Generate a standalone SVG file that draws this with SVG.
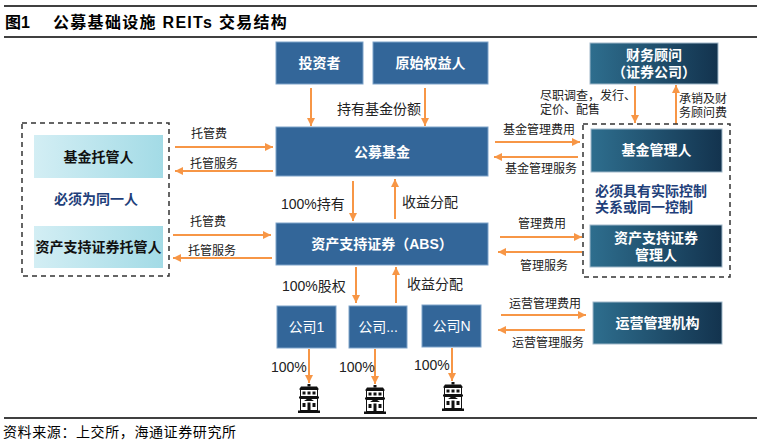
<svg xmlns="http://www.w3.org/2000/svg" width="764" height="445" viewBox="0 0 764 445">
<defs>
<style>
text{font-family:"Liberation Sans","Noto Sans CJK SC",sans-serif;}
.t{font-weight:bold;}
.w{fill:#fff;font-weight:bold;font-size:14px;text-anchor:middle;}
.wn{fill:#fff;font-weight:normal;font-size:14px;text-anchor:middle;}
.k{fill:#111;font-weight:bold;font-size:14px;text-anchor:middle;}
.lb{fill:#222;font-size:12px;}
.lm{fill:#222;font-size:14px;}
.nv{fill:#1f3f7a;font-weight:bold;font-size:14px;}
.blue{fill:#336699;stroke:#7ea3c9;stroke-width:1;}
.dark{fill:url(#gd);stroke:#9fb8c9;stroke-width:1;}
.cyan{fill:url(#gc);}
.dash{fill:none;stroke:#333;stroke-width:1.5;stroke-dasharray:5,4;}
.ar{stroke:#f79646;stroke-width:2;fill:none;marker-end:url(#ah);}
.rule{stroke:#000;stroke-width:1.5;}
</style>
<linearGradient id="gd" x1="0" y1="0" x2="1" y2="0">
<stop offset="0" stop-color="#2e6e8e"/>
<stop offset="1" stop-color="#13334e"/>
</linearGradient>
<linearGradient id="gc" x1="0" y1="0" x2="1" y2="0">
<stop offset="0" stop-color="#d3eef4"/>
<stop offset="1" stop-color="#a3dbe6"/>
</linearGradient>
<marker id="ah" viewBox="0 0 10 10" refX="10" refY="5" markerWidth="9" markerHeight="8" markerUnits="userSpaceOnUse" orient="auto">
<path d="M0,0 L10,5 L0,10 z" fill="#f79646"/>
</marker>
<g id="bld">
<rect x="9.5" y="0" width="3" height="2.5" fill="#111"/>
<polygon points="3,2.5 19,2.5 21,5.5 1,5.5" fill="#111"/>
<rect x="2.5" y="5.5" width="17" height="7" fill="#fff" stroke="#111" stroke-width="1"/>
<rect x="4.5" y="7.5" width="3" height="3" fill="#111"/>
<rect x="9.5" y="7.5" width="3" height="3" fill="#111"/>
<rect x="14.5" y="7.5" width="3" height="3" fill="#111"/>
<rect x="1" y="12.5" width="20" height="2" fill="#111"/>
<rect x="2.5" y="14.5" width="17" height="12" fill="#fff" stroke="#111" stroke-width="1"/>
<polygon points="6,17 11,13.5 16,17" fill="#111"/>
<rect x="4.5" y="19" width="3" height="4" fill="#111"/>
<rect x="14.5" y="19" width="3" height="4" fill="#111"/>
<rect x="9.5" y="18.5" width="3" height="8" fill="#111"/>
<rect x="0" y="26.5" width="22" height="2.5" fill="#111"/>
</g>
</defs>
<rect width="764" height="445" fill="#fff"/>

<g id="title">
<line class="rule" x1="4" y1="6" x2="757" y2="6"/>
<text x="5" y="28" class="t" font-size="16" fill="#000">图1</text>
<text x="53" y="28" class="t" font-size="16" fill="#000" letter-spacing="1.3">公募基础设施 REITs 交易结构</text>
<line class="rule" x1="4" y1="37" x2="757" y2="37"/>
</g>

<g id="connectors">
<line class="ar" x1="311" y1="88" x2="311" y2="126"/>
<line class="ar" x1="425" y1="88" x2="425" y2="126"/>
<line class="ar" x1="353" y1="181" x2="353" y2="221"/>
<line class="ar" x1="395" y1="219" x2="395" y2="179"/>
<line class="ar" x1="356" y1="267" x2="356" y2="303"/>
<line class="ar" x1="396" y1="303" x2="396" y2="267"/>
<line class="ar" x1="309" y1="349" x2="309" y2="383"/>
<line class="ar" x1="375" y1="349" x2="375" y2="384"/>
<line class="ar" x1="452" y1="348" x2="452" y2="381"/>
<line class="ar" x1="175" y1="147" x2="273" y2="147"/>
<line class="ar" x1="273" y1="171" x2="175" y2="171"/>
<line class="ar" x1="173" y1="235" x2="271" y2="235"/>
<line class="ar" x1="272" y1="258" x2="173" y2="258"/>
<line class="ar" x1="495" y1="142" x2="580" y2="142"/>
<line class="ar" x1="578" y1="157" x2="494" y2="157"/>
<line class="ar" x1="500" y1="237" x2="582" y2="237"/>
<line class="ar" x1="582" y1="252" x2="498" y2="252"/>
<line class="ar" x1="501" y1="315" x2="586" y2="315"/>
<line class="ar" x1="585" y1="330" x2="498" y2="330"/>
<line class="ar" x1="635" y1="86" x2="635" y2="123"/>
<line class="ar" x1="676" y1="124" x2="676" y2="85"/>
</g>

<g id="labels">
<text class="lm" x="337" y="114" font-size="13">持有基金份额</text>
<text class="lm" x="281" y="209">100%持有</text>
<text class="lm" x="402" y="207">收益分配</text>
<text class="lm" x="282" y="291">100%股权</text>
<text class="lm" x="407" y="289">收益分配</text>
<text class="lm" x="271" y="372">100%</text>
<text class="lm" x="339" y="372">100%</text>
<text class="lm" x="414" y="370">100%</text>
<text class="lb" x="191" y="138">托管费</text>
<text class="lb" x="190" y="168" font-size="13">托管服务</text>
<text class="lb" x="190" y="226">托管费</text>
<text class="lb" x="188" y="255" font-size="13">托管服务</text>
<text class="lb" x="503" y="134">基金管理费用</text>
<text class="lb" x="505" y="173">基金管理服务</text>
<text class="lb" x="518" y="228">管理费用</text>
<text class="lb" x="520" y="270">管理服务</text>
<text class="lb" x="509" y="308">运营管理费用</text>
<text class="lb" x="512" y="347">运营管理服务</text>
<text class="lb" x="540" y="100">尽职调查，发行、</text>
<text class="lb" x="540" y="114">定价、配售</text>
<text class="lb" x="679" y="103">承销及财</text>
<text class="lb" x="679" y="117">务顾问费</text>
</g>

<g id="custodian-group">
<rect class="dash" x="22" y="123" width="147" height="153"/>
<text class="nv" x="54" y="204">必须为同一人</text>
</g>
<g id="fund-custodian">
<rect class="cyan" x="34" y="135" width="129" height="43"/>
<text class="k" x="98.5" y="162" font-size="15">基金托管人</text>
</g>
<g id="abs-custodian">
<rect class="cyan" x="34" y="226" width="129" height="42"/>
<text class="k" x="98.5" y="252">资产支持证券托管人</text>
</g>

<g id="investor">
<rect class="blue" x="276" y="42" width="87" height="42"/>
<text class="w" x="319.5" y="68">投资者</text>
</g>
<g id="originator">
<rect class="blue" x="373" y="42" width="115" height="42"/>
<text class="w" x="430.5" y="68">原始权益人</text>
</g>
<g id="public-fund">
<rect class="blue" x="276" y="127" width="212" height="49"/>
<text class="w" x="382" y="157">公募基金</text>
</g>
<g id="abs">
<rect class="blue" x="276" y="223" width="212" height="42"/>
<text class="w" x="382" y="249">资产支持证券（ABS）</text>
</g>
<g id="company1">
<rect class="blue" x="277" y="306" width="59" height="42"/>
<text class="wn" x="306.5" y="332">公司1</text>
</g>
<g id="company2">
<rect class="blue" x="349" y="306" width="58" height="42"/>
<text class="wn" x="378" y="332">公司...</text>
</g>
<g id="companyN">
<rect class="blue" x="422" y="305" width="59" height="42"/>
<text class="wn" x="451.5" y="331">公司N</text>
</g>
<g id="buildings">
<use href="#bld" x="298" y="384"/>
<use href="#bld" x="364" y="385"/>
<use href="#bld" x="442" y="382"/>
</g>

<g id="advisor">
<rect class="dark" x="590" y="43" width="128" height="41"/>
<text class="w" x="654" y="60">财务顾问</text>
<text class="w" x="654" y="77">（证券公司）</text>
</g>
<g id="manager-group">
<rect class="dash" x="583" y="124" width="147" height="153"/>
<text class="nv" x="595" y="196">必须具有实际控制</text>
<text class="nv" x="595" y="212">关系或同一控制</text>
</g>
<g id="fund-manager">
<rect class="dark" x="591" y="129" width="131" height="43"/>
<text class="w" x="656.5" y="155" font-size="15">基金管理人</text>
</g>
<g id="abs-manager">
<rect class="dark" x="590" y="225" width="132" height="42"/>
<text class="w" x="656" y="243">资产支持证券</text>
<text class="w" x="656" y="260">管理人</text>
</g>
<g id="operator">
<rect class="dark" x="593" y="302" width="129" height="42"/>
<text class="w" x="657.5" y="328" font-size="15">运营管理机构</text>
</g>

<g id="source">
<line class="rule" x1="4" y1="418" x2="757" y2="418"/>
<text x="3" y="437" font-size="14" fill="#000" letter-spacing="0.6">资料来源：上交所，海通证券研究所</text>
</g>
</svg>
